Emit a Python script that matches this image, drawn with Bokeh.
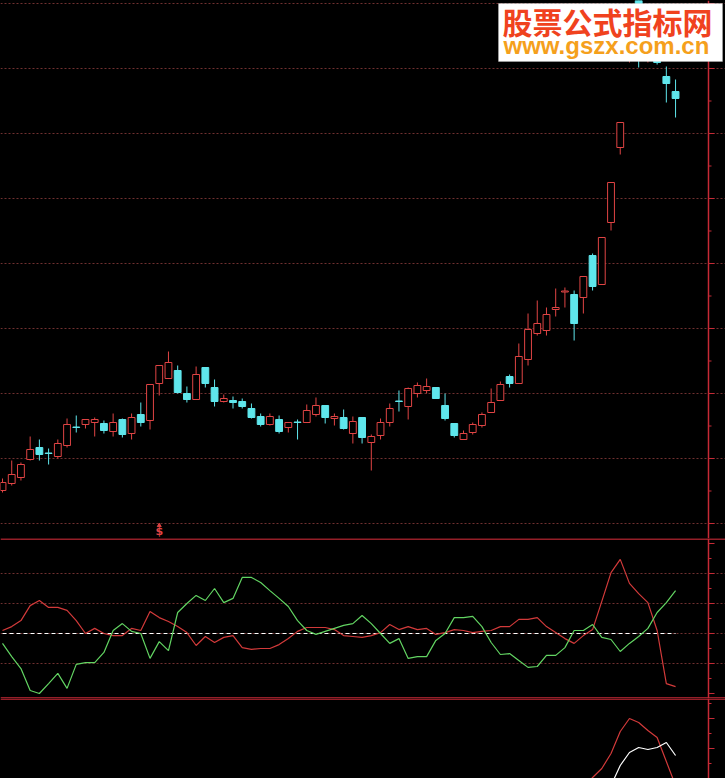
from bokeh.plotting import figure
from bokeh.layouts import column
from bokeh.models import (ColumnDataSource, Range1d, FixedTicker, Grid, BoxAnnotation,
                          Span, Label, GlobalInlineStyleSheet)
from bokeh.embed import file_html
from bokeh.resources import INLINE
from bokeh.core.properties import value

# ---------------- data ----------------
opens = [11.0, 11.7, 12.3, 14.1, 15.3, 14.75, 14.4, 15.5, 17.35, 17.6,
         17.8, 17.7, 16.9, 18.1, 16.7, 18.6, 18.0, 21.7, 22.2, 23.0,
         20.7, 20.1, 23.3, 21.3, 19.9, 20.0, 19.9, 19.2, 18.4, 17.6,
         18.1, 17.3, 17.85, 17.8, 18.6, 19.5, 18.2, 18.3, 16.7, 18.3,
         15.8, 16.5, 17.8, 19.95, 19.4, 20.7, 21.0, 21.3, 19.5, 17.7,
         16.1, 16.8, 17.5, 18.8, 20.0, 22.4, 21.7, 24.1, 26.7, 27.0,
         29.1, 30.85, 30.6, 30.3, 34.5, 31.6, 37.8, 45.3, 54.0, 60.0,
         55.0, 57.5, 52.4, 50.9]
highs = [12.2, 14.0, 13.8, 16.4, 16.1, 15.2, 16.1, 18.2, 18.5, 18.1,
         18.3, 18.0, 18.7, 18.2, 18.7, 19.8, 21.6, 23.5, 24.9, 23.5,
         21.4, 23.4, 23.3, 22.1, 20.6, 20.4, 20.2, 19.7, 18.7, 18.7,
         18.5, 17.8, 18.1, 19.6, 20.3, 19.5, 18.7, 19.1, 18.4, 18.3,
         16.6, 18.2, 19.7, 21.0, 21.3, 21.8, 22.2, 21.3, 20.7, 17.7,
         17.0, 17.8, 18.8, 21.2, 21.9, 22.6, 25.7, 28.7, 30.0, 29.3,
         31.2, 31.3, 31.0, 32.4, 34.7, 36.3, 41.8, 47.8, 59.5, 60.0,
         59.0, 58.5, 53.4, 52.1]
lows = [10.8, 11.5, 12.0, 14.0, 14.0, 13.6, 14.2, 15.3, 16.8, 17.2,
        16.4, 16.7, 16.4, 16.3, 16.1, 17.4, 17.1, 20.5, 22.2, 20.7,
        19.8, 20.1, 21.3, 19.4, 19.8, 19.2, 19.2, 18.2, 17.4, 17.5,
        16.7, 16.8, 16.1, 17.8, 18.4, 17.7, 17.5, 17.1, 15.7, 15.7,
        13.0, 16.1, 17.4, 18.9, 18.1, 20.3, 20.7, 20.2, 18.0, 16.3,
        16.1, 16.6, 17.3, 18.8, 20.0, 21.3, 21.7, 23.5, 26.5, 26.5,
        28.4, 29.3, 26.0, 28.7, 31.0, 31.6, 37.0, 44.6, 53.8, 53.3,
        53.8, 53.6, 49.8, 48.3]
closes = [11.8, 12.6, 13.6, 15.1, 14.6, 14.7, 15.7, 17.6, 17.3, 18.1,
          18.1, 17.0, 17.8, 16.6, 18.3, 17.8, 21.6, 23.5, 23.8, 20.8,
          20.1, 22.6, 21.7, 19.9, 20.2, 19.8, 19.4, 18.3, 17.6, 18.4,
          16.9, 17.8, 17.8, 19.0, 19.5, 18.3, 18.4, 17.2, 17.9, 16.3,
          16.4, 17.8, 19.2, 19.9, 21.2, 21.5, 21.4, 20.2, 18.2, 16.5,
          16.7, 17.6, 18.6, 19.8, 21.6, 21.7, 24.4, 27.1, 27.7, 28.6,
          29.3, 30.95, 27.7, 32.4, 31.4, 36.3, 41.8, 47.8, 59.0, 56.0,
          58.0, 53.8, 51.7, 50.2]

# indicator panel (two lines)
ind_green = [-3.3, -7.7, -11.7, -19, -20, -16.7, -13.3, -18.3, -10.3, -9.7,
             -9.7, -6.3, 1, 3.3, 0.7, 0, -8.3, -2.7, -5.7, 7,
             10, 12.7, 11, 15, 10.3, 11.7, 18.7, 18.7, 17, 14.3,
             11.7, 9, 4.3, 1, -0.3, 0.7, 1.7, 2.7, 3.3, 6,
             3.3, 0, -3.3, -1.7, -8.3, -7.7, -7.7, -2.3, 0, 5.3,
             5.3, 5.7, 2.3, -3, -7, -6.7, -9, -11.3, -11, -7.3,
             -7.3, -4.7, 1, 1, 3, -1.3, -2, -6, -3.3, -1,
             1.7, 7, 10.3, 14.3]
ind_red = [1, 2.3, 4.3, 9.3, 11, 8.7, 8.7, 7.7, 4.3, 0,
           1.7, 0, -0.7, -0.7, 1.7, 1, 7.3, 5.3, 4, 2.3,
           0.3, -4, -1, -3, -1.3, -0.7, -4.7, -5.3, -5, -5,
           -3.7, -1.7, 0.7, 2, 2, 2, 1.3, -0.7, -1, -1.3,
           -0.7, 0.3, 3, 1.3, 2.3, 1.3, 1.7, -0.3, 0.3, 1.3,
           1, 0.3, 0.7, 1, 2.3, 2.3, 4.7, 4.7, 5.3, 2.3,
           0.3, -1.7, -3.3, -0.7, 1.3, 10.7, 20.3, 24.7, 16.7, 13.3,
           10.3, 1, -16.7, -17.7]

# lower panel (only the tail of each line is visible)
low_red = [-10, 1, 10, 25, 47, 60, 56, 48, 41, 17, -7]       # candles 63..73
low_white = [-25, -7, 13, 26, 31, 29, 31, 36, 23]            # candles 65..73

signal_idx = [17]
signal_text = ["$"]

# axis ticks of the right-hand scale of each panel
price_grid = [7.7 + 6.5 * k for k in range(9)]
price_ticks_minor = [7.7 + 3.25 * k for k in range(17)]
ind_grid = [-10, 0, 10, 20]
ind_ticks_major = [-20, -10, 0, 10, 20, 30]
ind_ticks_minor = [-15, -5, 5, 15, 25]
low_ticks_major = [30, 60]
low_ticks_minor = [15, 45, 75]

# ---------------- styling ----------------
RED = "#e04444"
CYAN = "#5fe6ec"
GRID = "#703030"
AXIS = "#c62a36"
LINE_RED = "#d23a3a"
LINE_GREEN = "#62d462"

n = len(opens)
idx = list(range(n))
up = [c > o for o, c in zip(opens, closes)]
src = ColumnDataSource(dict(
    x=idx, high=highs, low=lows,
    top=[max(o, c) for o, c in zip(opens, closes)],
    bottom=[min(o, c) for o, c in zip(opens, closes)],
    color=[RED if u else CYAN for u in up],
    fill=["#000000" if u else CYAN for u in up],
))

W = 725
STEP = 9.22          # pixels per candle
OFF = 2.0            # pixel position of the first candle
X0, X1 = -OFF / STEP, (W - OFF) / STEP
xr = Range1d(X0, X1)
AXIS_PX = 708


def fx(px):
    return X0 + px / W * (X1 - X0)


def make_fig(h, yr, major, minor):
    p = figure(width=W, height=h, x_range=xr, y_range=yr, output_backend="svg",
               toolbar_location=None, x_axis_location=None, y_axis_location=None,
               background_fill_color="#000000", border_fill_color="#000000",
               outline_line_color=None, min_border=0)
    p.grid.visible = False
    # right-hand scale: line plus ticks
    p.add_layout(Span(location=fx(AXIS_PX), dimension="height", line_color=AXIS, line_width=1.5))
    ax = fx(AXIS_PX)
    p.segment(x0=[ax] * len(major), y0=major, x1=[fx(AXIS_PX + 6)] * len(major), y1=major,
              line_color=AXIS, line_width=1)
    p.segment(x0=[ax] * len(minor), y0=minor, x1=[fx(AXIS_PX + 3)] * len(minor), y1=minor,
              line_color=AXIS, line_width=1)
    return p


# ---- price panel ----
H1 = 538
y1 = Range1d(6.2, 60.0)
p1 = make_fig(H1, y1, price_grid, price_ticks_minor)
p1.add_layout(Grid(dimension=1, ticker=FixedTicker(ticks=price_grid),
                   grid_line_color=GRID, grid_line_dash="2 2", grid_line_width=1))
p1.segment(x0="x", y0="low", x1="x", y1="high", color="color", line_width=1, source=src)
p1.vbar(x="x", top="top", bottom="bottom", width=0.74, fill_color="fill",
        line_color="color", line_width=1, source=src)

sig_y = y1.start + 0.75
p1.text(x=signal_idx, y=[sig_y] * len(signal_idx), text=signal_text, text_color=RED,
        text_font=value("DejaVu Sans"), text_font_style="bold", text_font_size="11px",
        text_align="center", text_baseline="middle")
p1.scatter(x=signal_idx, y=[sig_y + 0.55] * len(signal_idx), marker="triangle", size=4,
           color=RED)


def fy(py):
    return y1.end - py / H1 * (y1.end - y1.start)


# watermark box and texts
p1.add_layout(BoxAnnotation(left=fx(498), right=fx(722), top=fy(3), bottom=fy(61),
                            fill_color="#ffffff", fill_alpha=1.0,
                            line_color="#d4d4d4", line_width=1))
wm1 = Label(x=fx(502), y=fy(20), text="股票公式指标网", text_baseline="alphabetic",
            text_font="Noto Sans CJK SC", text_font_style="bold", text_font_size="30px",
            text_color="#f0421e")
wm2 = Label(x=fx(503), y=fy(45), text="www.gszx.com.cn", text_baseline="alphabetic",
            text_font="Liberation Sans", text_font_style="bold", text_font_size="24px",
            text_color="#f5a01c")
p1.add_layout(wm1)
p1.add_layout(wm2)

# ---- indicator panel ----
y2 = Range1d(-21.67, 31.67)
p2 = make_fig(160, y2, ind_ticks_major, ind_ticks_minor)
p2.add_layout(Grid(dimension=1, ticker=FixedTicker(ticks=ind_grid),
                   grid_line_color=GRID, grid_line_dash="2 2", grid_line_width=1))
p2.add_layout(Span(location=y2.end - 0.2, dimension="width", line_color=AXIS, line_width=1.5))
p2.add_layout(Span(location=y2.start + 0.2, dimension="width", line_color=AXIS, line_width=1.5))
p2.line(x=[idx[0], idx[-1]], y=[0, 0], line_color="#ffffff", line_dash="4 3", line_width=1.2)
p2.line(x=idx, y=ind_red, line_color=LINE_RED, line_width=1.2)
p2.line(x=idx, y=ind_green, line_color=LINE_GREEN, line_width=1.2)

# ---- lower panel ----
y3 = Range1d(0, 80)
p3 = make_fig(80, y3, low_ticks_major, low_ticks_minor)
p3.add_layout(Span(location=y3.end - 0.4, dimension="width", line_color=AXIS, line_width=1.5))
p3.line(x=idx[n - len(low_red):], y=low_red, line_color=LINE_RED, line_width=1.2)
p3.line(x=idx[n - len(low_white):], y=low_white, line_color="#ffffff", line_width=1.2)

layout = column(p1, p2, p3, spacing=0,
                stylesheets=[GlobalInlineStyleSheet(css="html, body { background: #000000; }")])

open("out.html", "w").write(file_html(layout, INLINE))
